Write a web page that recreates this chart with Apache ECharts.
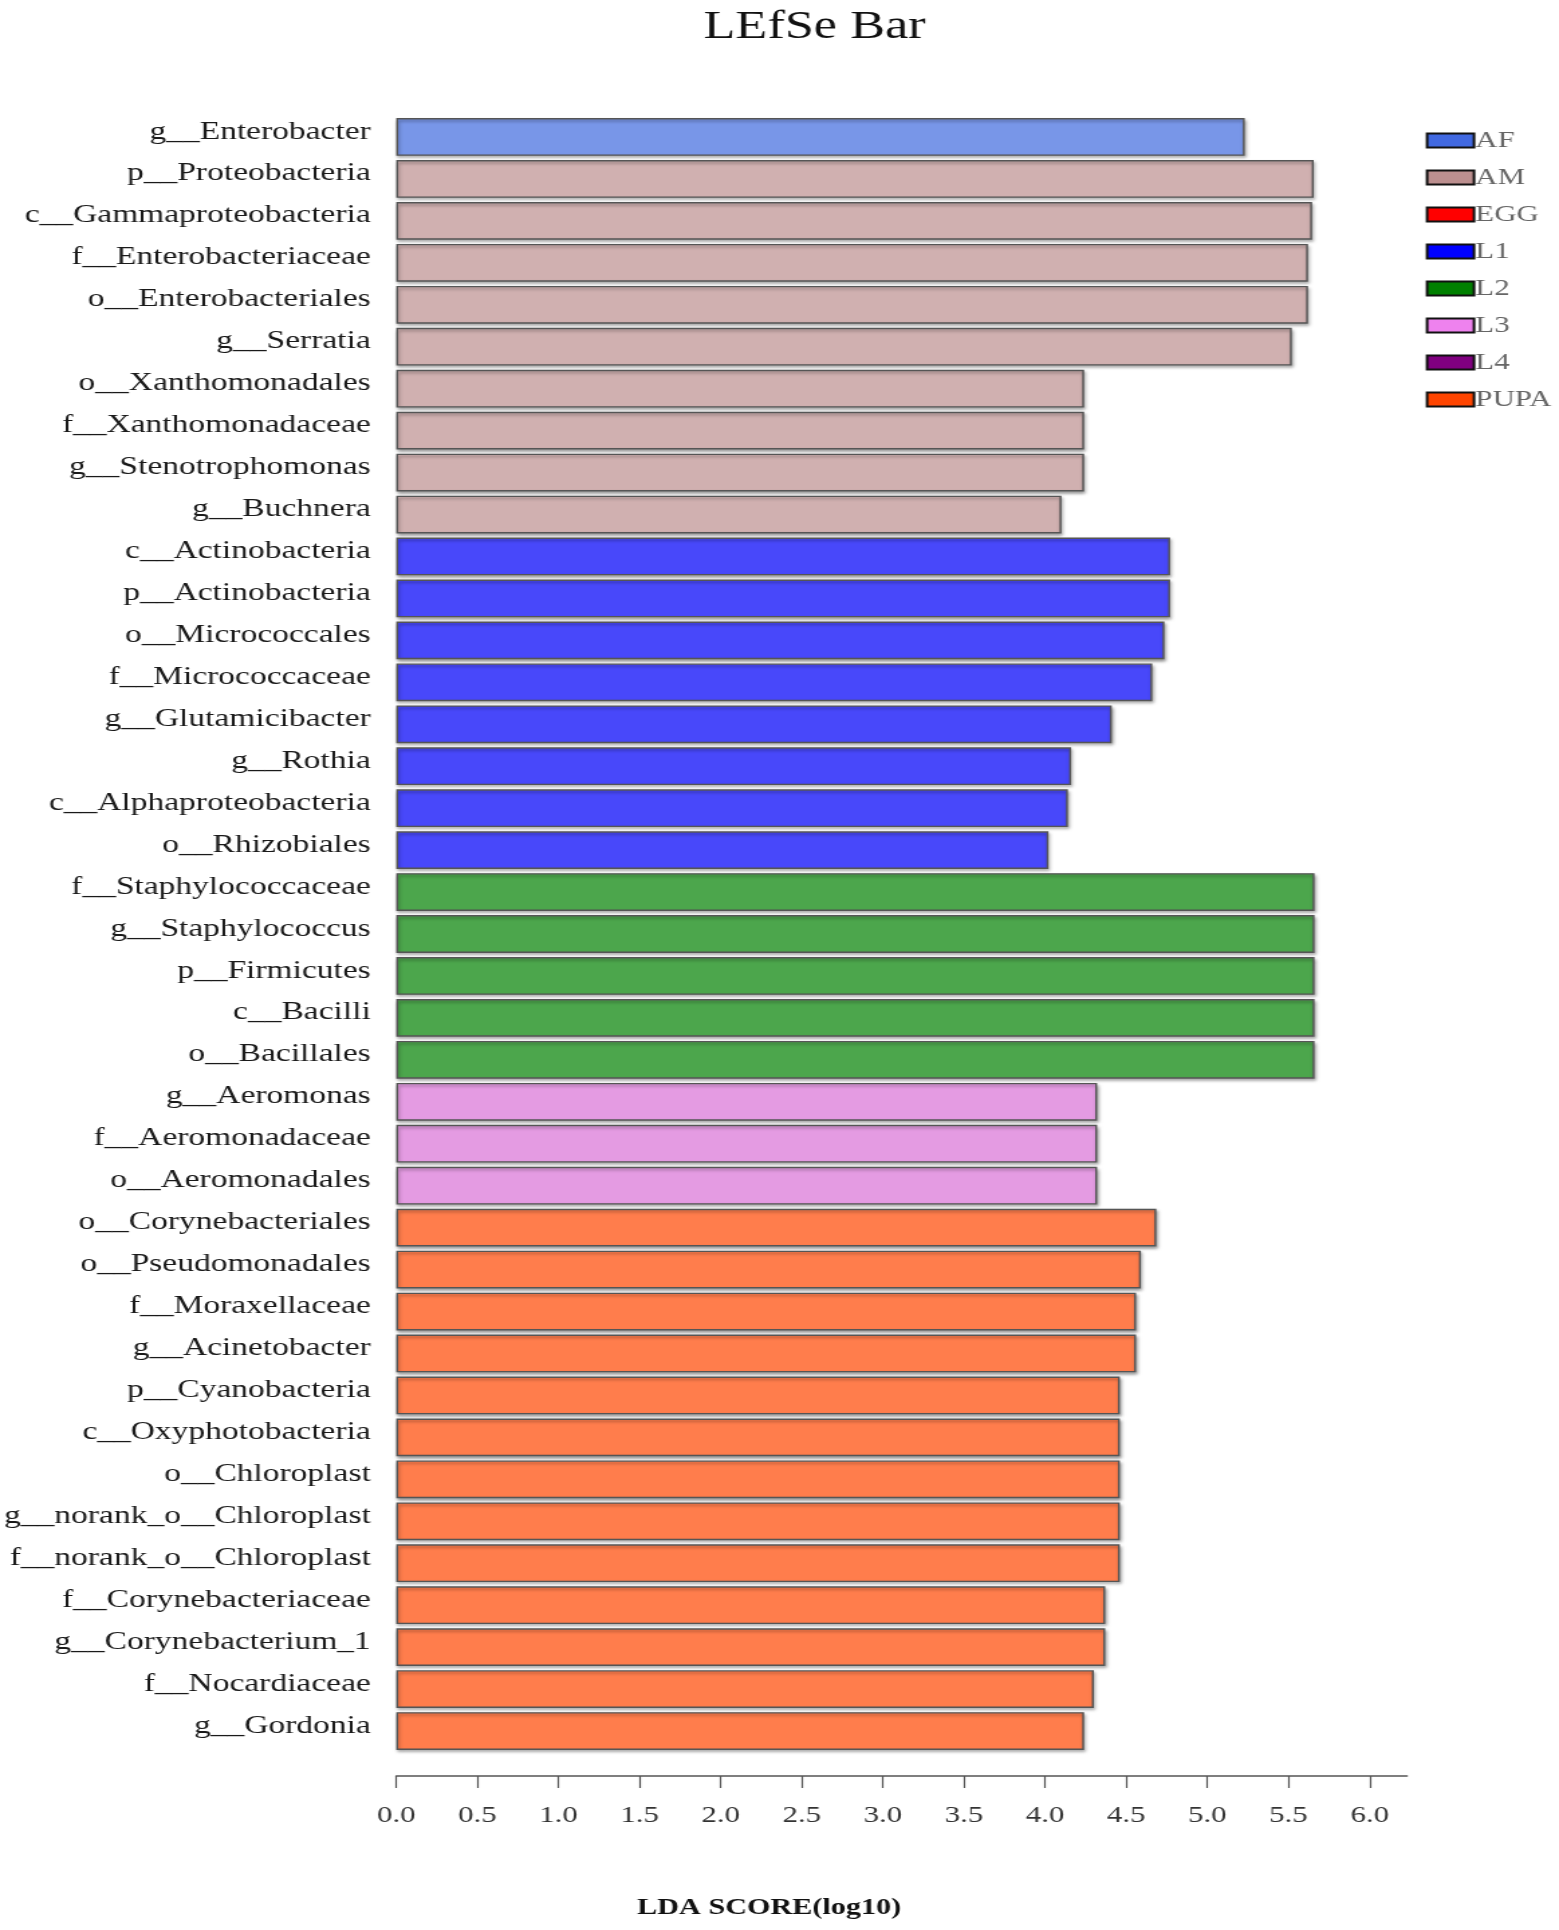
<!DOCTYPE html>
<html>
<head>
<meta charset="utf-8">
<script src="https://cdn.jsdelivr.net/npm/echarts@6/dist/echarts.min.js"></script>
<style>
html,body{margin:0;padding:0;background:#fff;}
#wrap{width:1559px;height:1930px;overflow:hidden;background:#fff;}
#chart{width:1163px;height:1930px;transform:scaleX(1.34049);transform-origin:0 0;}
</style>
</head>
<body>
<div id="wrap"><div id="chart"></div></div>
<script>
const categories = [
  "g__Enterobacter","p__Proteobacteria","c__Gammaproteobacteria","f__Enterobacteriaceae","o__Enterobacteriales",
  "g__Serratia","o__Xanthomonadales","f__Xanthomonadaceae","g__Stenotrophomonas","g__Buchnera",
  "c__Actinobacteria","p__Actinobacteria","o__Micrococcales","f__Micrococcaceae","g__Glutamicibacter",
  "g__Rothia","c__Alphaproteobacteria","o__Rhizobiales",
  "f__Staphylococcaceae","g__Staphylococcus","p__Firmicutes","c__Bacilli","o__Bacillales",
  "g__Aeromonas","f__Aeromonadaceae","o__Aeromonadales",
  "o__Corynebacteriales","o__Pseudomonadales","f__Moraxellaceae","g__Acinetobacter","p__Cyanobacteria",
  "c__Oxyphotobacteria","o__Chloroplast","g__norank_o__Chloroplast","f__norank_o__Chloroplast",
  "f__Corynebacteriaceae","g__Corynebacterium_1","f__Nocardiaceae","g__Gordonia"
];
const ldaScores = [
  5.23, 5.655, 5.645, 5.62, 5.62,
  5.52, 4.24, 4.24, 4.24, 4.10,
  4.77, 4.77, 4.735, 4.66, 4.41,
  4.16, 4.14, 4.02,
  5.66, 5.66, 5.66, 5.66, 5.66,
  4.32, 4.32, 4.32,
  4.685, 4.59, 4.56, 4.56, 4.46,
  4.46, 4.46, 4.46, 4.46,
  4.37, 4.37, 4.30, 4.24
];
const groupOf = [
  "AF","AM","AM","AM","AM",
  "AM","AM","AM","AM","AM",
  "L1","L1","L1","L1","L1",
  "L1","L1","L1",
  "L2","L2","L2","L2","L2",
  "L3","L3","L3",
  "PUPA","PUPA","PUPA","PUPA","PUPA",
  "PUPA","PUPA","PUPA","PUPA",
  "PUPA","PUPA","PUPA","PUPA"
];
const groups = ["AF","AM","EGG","L1","L2","L3","L4","PUPA"];
const legendColors = ["#4169e1","#bc8f8f","#ff0000","#0000ff","#008000","#ee82ee","#800080","#ff4500"];
const barColors = ["#7896e8","#d0b0b0","#ff4d4d","#4848fa","#4ca64c","#e49be2","#a64da6","#ff7d4c"];
const xTicks = [0,0.5,1,1.5,2,2.5,3,3.5,4,4.5,5,5.5,6];

const serif = '"Liberation Serif","Times New Roman",serif';
const chart = echarts.init(document.getElementById('chart'), null, {renderer:'canvas'});

const series = groups.map((g, gi) => ({
  name: g,
  type: 'bar',
  barGap: '-100%',
  barCategoryGap: '10%',
  data: ldaScores.map((v, i) => groupOf[i] === g ? v : '-'),
  itemStyle: {
    color: barColors[gi],
    borderColor: '#555',
    borderWidth: 1.4,
    shadowColor: 'rgba(0,0,0,0.35)',
    shadowBlur: 3,
    shadowOffsetX: 1,
    shadowOffsetY: 2
  },
  emphasis: {disabled: true},
  animation: false
}));

chart.setOption({
  backgroundColor: '#fff',
  animation: false,
  graphic: [
    {type:'text', x: 607.6, y: 8, style:{text:'LEfSe Bar', font:'39px ' + serif, fill:'#111', align:'center', verticalAlign:'top'}},
    {type:'text', x: 573.7, y: 1897, style:{text:'LDA SCORE(log10)', font:'bold 22.5px ' + serif, fill:'#111', align:'center', verticalAlign:'top'}}
  ],
  legend: {
    orient: 'vertical',
    left: 1058.6,
    top: 124,
    itemWidth: 35,
    itemHeight: 14,
    itemGap: 14,
    icon: 'rect',
    selectedMode: false,
    textStyle: {fontFamily: serif, fontSize: 23, color: '#666', padding: [0,0,0,-4]},
    data: groups.map((g, gi) => ({
      name: g,
      itemStyle: {color: legendColors[gi], borderColor: '#111', borderWidth: 2, shadowBlur: 0, shadowOffsetX:0, shadowOffsetY:0}
    }))
  },
  grid: {left: 293.9, right: 113.4, top: 116, bottom: 178, containLabel: false},
  xAxis: {
    type: 'value',
    min: 0,
    max: 6.23,
    interval: 0.5,
    offset: 24,
    splitLine: {show: false},
    axisLine: {show: true, lineStyle: {color: '#555', width: 1.5}},
    axisTick: {show: true, length: 12, lineStyle: {color: '#555', width: 1.2}},
    axisLabel: {
      showMaxLabel: false,
      margin: 28,
      fontFamily: serif,
      fontSize: 23,
      color: '#333',
      formatter: v => xTicks.indexOf(Math.round(v*10)/10) >= 0 ? v.toFixed(1) : ''
    }
  },
  yAxis: {
    type: 'category',
    data: categories,
    inverse: true,
    axisLine: {show: false},
    axisTick: {show: false},
    splitLine: {show: false},
    axisLabel: {fontFamily: serif, fontSize: 25, color: '#1a1a1a', margin: 19, verticalAlign: 'bottom', lineHeight: 10}
  },
  series: series
});
</script>
</body>
</html>
